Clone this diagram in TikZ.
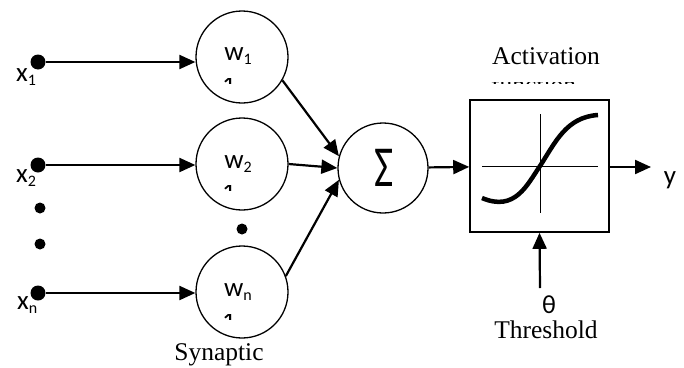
\documentclass[tikz,border=0pt]{standalone}
\usepackage{fontspec}
\usepackage{graphicx}
\setmainfont{Liberation Serif}
\newfontfamily\labfont{Carlito}
\usetikzlibrary{arrows.meta}
\newcommand{\lsub}[1]{{\fontsize{16}{16}\selectfont\raisebox{-4pt}{#1}}}
\begin{document}
\begin{tikzpicture}[x=1pt,y=-1pt,
  neuron/.style={circle,draw,line width=1.3pt,minimum size=92pt,inner sep=0pt},
  indot/.style={circle,fill,inner sep=0pt,minimum size=15pt},
  edot/.style={circle,fill,inner sep=0pt,minimum size=11pt},
  conn/.style={line width=2.2pt,-{Triangle[length=16pt,width=14pt]}},
  lab/.style={font=\labfont\fontsize{27}{28}\selectfont,inner sep=0pt},
  serif/.style={font=\fontsize{25.5}{28}\selectfont,inner sep=0pt}]
\useasboundingbox (0,0) rectangle (684,367);

% inputs
\node[indot] (x1) at (38,62) {};
\node[indot] (x2) at (38,165) {};
\node[indot] (xn) at (38,293) {};
\node[edot] (e1) at (40,208) {};
\node[edot] (e2) at (40,244) {};
\node[edot] (e3) at (242,229) {};

\node[lab,anchor=base west] (lx1) at (16,81) {x\lsub{1}};
\node[lab,anchor=base west] (lx2) at (16,182) {x\lsub{2}};
\node[lab,anchor=base west] (lxn) at (17,309) {x\lsub{n}};

% weights
\node[neuron] (w1) at (242,57) {};
\node[neuron] (w2) at (242,164) {};
\node[neuron] (wn) at (242,292) {};
\node[lab,anchor=base] (lw1) at (238,60) {w\lsub{1}};
\node[lab,anchor=base] (lw2) at (238,168) {w\lsub{2}};
\node[lab,anchor=base] (lwn) at (238,296) {w\lsub{n}};

% clipped second-line fragments
\begin{scope}
  \clip (220,78) rectangle (236,83);
  \node[lab,anchor=base] (f1) at (229,94) {1};
\end{scope}
\begin{scope}
  \clip (220,185) rectangle (236,190);
  \node[lab,anchor=base] (f2) at (229,201) {1};
\end{scope}
\begin{scope}
  \clip (220,314) rectangle (236,319);
  \node[lab,anchor=base] (fn) at (229,330) {1};
\end{scope}

\draw[conn] (x1) -- (x1 -| w1.west);
\draw[conn] (x2) -- (x2 -| w2.west);
\draw[conn] (xn) -- (xn -| wn.west);

% summation
\node[circle,draw,line width=1.3pt,minimum size=90pt,inner sep=0pt] (S) at (383,168) {};
\node[lab,anchor=center] (sig) at (384,168) {\fontsize{58}{58}\selectfont\scalebox{0.72}[1]{Σ}};

\draw[conn] (w1.-30) -- (S.165);
\draw[conn] (w2.east) -- (S.west);
\draw[conn] (wn.20) -- (S.195);

\node[serif,anchor=base] (syn) at (219,360) {Synaptic};

% activation box
\node[draw,line width=1.6pt,minimum width=139pt,minimum height=132pt,inner sep=0pt] (box) at (539.5,166) {};
\draw[line width=0.9pt] (482,166) -- (598,166);
\draw[line width=0.9pt] (540,114) -- (540,213);
\draw[line width=4.5pt] (482,198) .. controls (515,212) and (527,185) .. (540,166)
      .. controls (555,143) and (566,117) .. (598,115);

\draw[conn] (S) -- (box);

\node[serif,anchor=base] (act) at (546,64) {Activation};
\begin{scope}
  \clip (480,82) rectangle (620,83.5);
  \node[serif,anchor=base west] (fun) at (491,93) {function};
\end{scope}

% output
\coordinate (out) at (651,167);
\draw[conn] (box.east |- out) -- (out);
\node[lab,anchor=base] (ly) at (670,184) {y};

% threshold
\coordinate (th) at (540,288);
\draw[conn] (th) -- (box.south);
\node[font=\labfont\fontsize{26}{26}\selectfont,inner sep=0pt] (theta) at (549,305) {θ};
\node[serif,anchor=base] (thr) at (546,338) {Threshold};
\end{tikzpicture}
\end{document}
